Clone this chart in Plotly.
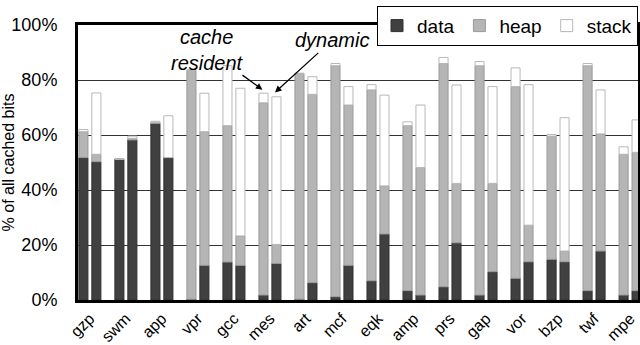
import plotly.graph_objects as go

categories = ["gzp", "swm", "app", "vpr", "gcc", "mes", "art", "mcf",
              "eqk", "amp", "prs", "gap", "vor", "bzp", "twf", "mpe"]

# cache resident bars (percent of all cached bits)
res_data = [51.8, 51.2, 64.2, 0.3, 13.8, 1.8, 0.3, 1.2, 7.0, 3.4, 4.8, 1.8, 7.9, 14.8, 3.4, 1.8]
res_heap = [9.4, 0.0, 0.4, 83.3, 49.6, 69.9, 82.1, 84.0, 69.4, 60.0, 81.2, 83.4, 69.7, 44.8, 81.8, 51.2]
res_stack = [0.8, 0.0, 0.4, 0.0, 21.8, 3.5, 0.0, 0.8, 1.9, 1.4, 2.2, 1.5, 6.8, 0.6, 0.8, 2.7]

# dynamic bars
dyn_data = [50.3, 58.2, 51.8, 12.6, 12.6, 13.3, 6.3, 12.6, 24.0, 1.8, 20.8, 10.3, 13.9, 13.9, 17.8, 3.4]
dyn_heap = [2.7, 0.6, 0.0, 48.6, 10.7, 6.9, 68.5, 58.3, 17.5, 46.4, 21.6, 32.1, 13.3, 3.9, 42.6, 50.3]
dyn_stack = [22.3, 0.8, 15.2, 14.0, 53.7, 53.7, 6.4, 6.7, 33.0, 22.7, 35.8, 35.2, 51.1, 48.5, 16.0, 11.8]

idx = list(range(len(categories)))

colors = {"data": "#404040", "heap": "#b5b5b5", "stack": "#ffffff"}
lines = {"data": "#303030", "heap": "#9a9a9a", "stack": "#b8b8b8"}

fig = go.Figure()

def add_stack(group, d, h, s, show):
    base_h = d
    base_s = [a + b for a, b in zip(d, h)]
    for name, vals, base in (("data", d, None), ("heap", h, base_h), ("stack", s, base_s)):
        fig.add_trace(go.Bar(
            x=idx, y=vals, base=base, name=name, offsetgroup=group,
            legendgroup=name, showlegend=show,
            marker=dict(color=colors[name], line=dict(color=lines[name], width=1)),
        ))

add_stack("res", res_data, res_heap, res_stack, True)
add_stack("dyn", dyn_data, dyn_heap, dyn_stack, False)

font_family = "Liberation Sans, Arial, sans-serif"

fig.update_layout(
    width=640, height=345,
    margin=dict(l=78, r=2, t=25, b=45),
    barmode="group", bargap=0.28, bargroupgap=0.3,
    plot_bgcolor="white", paper_bgcolor="white",
    font=dict(family=font_family, size=16, color="black"),
    showlegend=True,
    legend=dict(orientation="h", x=1.0, xanchor="right", y=1.07, yanchor="top",
                bgcolor="white", bordercolor="black", borderwidth=1,
                font=dict(size=19), itemwidth=30, tracegroupgap=0),
    xaxis=dict(range=[-0.33, 15.22], tickvals=idx, ticktext=categories,
               tickangle=-45, showgrid=False, ticks="", zeroline=False,
               showline=True, linecolor="black", linewidth=3, mirror=True,
               tickfont=dict(size=16), automargin=False),
    yaxis=dict(range=[0, 100], tickvals=[0, 20, 40, 60, 80, 100],
               ticktext=["0%", "20%", "40%", "60%", "80%", "100%"],
               showgrid=True, gridcolor="#333333", gridwidth=1, zeroline=False,
               showline=True, linecolor="black", linewidth=3, mirror=True,
               ticks="", tickfont=dict(size=18), ticklabelstandoff=14,
               automargin=False,
               title=dict(text="% of all cached bits", font=dict(size=16), standoff=2)),
)

fig.add_annotation(x=4.79, y=76.5, xref="x", yref="y",
                   text="<i>cache<br>resident</i>", showarrow=True,
                   arrowhead=2, arrowsize=1, arrowwidth=1.3, arrowcolor="black",
                   ax=-55, ay=-40, font=dict(size=20), align="center")
fig.add_annotation(x=5.14, y=75.5, xref="x", yref="y",
                   text="<i>dynamic</i>", showarrow=True,
                   arrowhead=2, arrowsize=1, arrowwidth=1.3, arrowcolor="black",
                   ax=57, ay=-52, font=dict(size=20))

fig.write_html("out.html", config={"displayModeBar": False},
               post_script="document.body.style.margin='0';")
